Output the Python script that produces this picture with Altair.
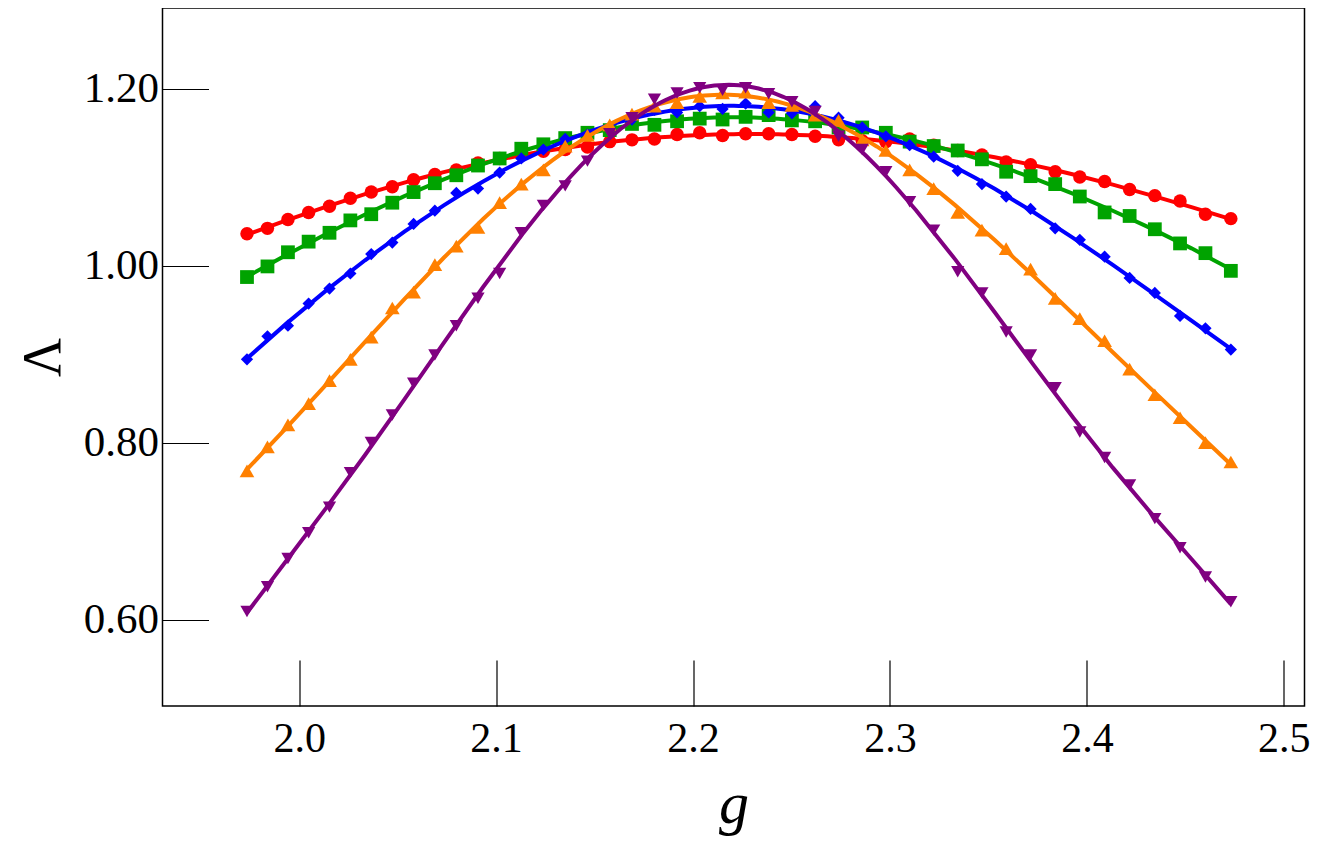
import altair as alt
import pandas as pd

g_vals = [1.9735, 1.9839, 1.9943, 2.0048, 2.0154, 2.0260, 2.0366, 2.0473, 2.0581, 2.0689,
          2.0798, 2.0908, 2.1018, 2.1128, 2.1240, 2.1351, 2.1464, 2.1577, 2.1690, 2.1804,
          2.1919, 2.2034, 2.2150, 2.2267, 2.2384, 2.2502, 2.2620, 2.2739, 2.2859, 2.2979,
          2.3100, 2.3222, 2.3344, 2.3467, 2.3590, 2.3714, 2.3839, 2.3964, 2.4090, 2.4217,
          2.4345, 2.4473, 2.4602, 2.4731]

red = [1.036, 1.042, 1.052, 1.060, 1.067, 1.076, 1.083, 1.089, 1.097, 1.103,
       1.108, 1.116, 1.121, 1.126, 1.129, 1.131, 1.134, 1.140, 1.142, 1.143,
       1.148, 1.150, 1.147, 1.149, 1.149, 1.148, 1.146, 1.142, 1.141, 1.140,
       1.143, 1.136, 1.130, 1.125, 1.117, 1.114, 1.106, 1.100, 1.095, 1.086,
       1.079, 1.073, 1.058, 1.053]
green = [0.987, 0.999, 1.015, 1.027, 1.037, 1.051, 1.058, 1.071, 1.083, 1.093,
         1.102, 1.113, 1.121, 1.132, 1.137, 1.144, 1.150, 1.153, 1.160, 1.159,
         1.163, 1.166, 1.165, 1.168, 1.170, 1.164, 1.163, 1.156, 1.156, 1.150,
         1.140, 1.135, 1.130, 1.120, 1.106, 1.101, 1.092, 1.078, 1.060, 1.056,
         1.041, 1.025, 1.014, 0.994]
blue = [0.894, 0.920, 0.932, 0.957, 0.974, 0.991, 1.013, 1.026, 1.047, 1.062,
        1.082, 1.087, 1.105, 1.121, 1.131, 1.143, 1.148, 1.155, 1.165, 1.176,
        1.173, 1.180, 1.177, 1.183, 1.173, 1.172, 1.180, 1.167, 1.156, 1.146,
        1.136, 1.123, 1.107, 1.092, 1.078, 1.064, 1.042, 1.029, 1.010, 0.986,
        0.969, 0.943, 0.929, 0.905]
orange = [0.768, 0.795, 0.820, 0.844, 0.870, 0.894, 0.919, 0.952, 0.970, 1.001,
          1.022, 1.043, 1.071, 1.092, 1.108, 1.135, 1.147, 1.159, 1.171, 1.180,
          1.184, 1.191, 1.195, 1.196, 1.184, 1.181, 1.170, 1.164, 1.142, 1.130,
          1.108, 1.087, 1.060, 1.040, 1.019, 0.996, 0.963, 0.940, 0.915, 0.883,
          0.854, 0.828, 0.800, 0.778]
purple = [0.609, 0.637, 0.669, 0.698, 0.727, 0.766, 0.800, 0.831, 0.867, 0.899,
          0.932, 0.963, 0.991, 1.037, 1.068, 1.090, 1.118, 1.149, 1.167, 1.188,
          1.195, 1.201, 1.198, 1.201, 1.194, 1.185, 1.174, 1.146, 1.131, 1.106,
          1.072, 1.040, 0.993, 0.969, 0.925, 0.899, 0.862, 0.812, 0.783, 0.752,
          0.714, 0.681, 0.648, 0.620]

series_names = ["s1", "s2", "s3", "s4", "s5"]
series_vals = [red, green, blue, orange, purple]
colors = ["#FF0000", "#00A300", "#0000FF", "#FF8000", "#800080"]
shapes = ["circle", "square", "diamond", "triangle-up", "triangle-down"]
sizes = [180, 190, 150, 215, 175]

x_ticks = [2.0, 2.1, 2.2, 2.3, 2.4, 2.5]
y_ticks = [0.6, 0.8, 1.0, 1.2]

rows = []
for name, vals in zip(series_names, series_vals):
    for gx, v in zip(g_vals, vals):
        rows.append({"series": name, "g": gx, "L": v})
df = pd.DataFrame(rows)

FONT = "Liberation Serif"

xscale = alt.Scale(domain=[1.9306, 2.5105], nice=False, zero=False)
yscale = alt.Scale(domain=[0.5023, 1.291], nice=False, zero=False)

xaxis = alt.Axis(values=x_ticks, format=".1f", title="g", grid=False, domain=False,
                 tickSize=46, offset=-46, tickColor="black", tickWidth=1.2,
                 labelFont=FONT, labelFontSize=42, labelColor="black", labelPadding=12,
                 titleFont=FONT, titleFontSize=60, titleFontStyle="italic",
                 titleFontWeight="normal", titleColor="black", titlePadding=16)
yaxis = alt.Axis(values=y_ticks, format=".2f", title="Λ", grid=False, domain=False,
                 tickSize=46, offset=-46, tickColor="black", tickWidth=1.2,
                 labelFont=FONT, labelFontSize=43, labelColor="black", labelPadding=4,
                 titleFont=FONT, titleFontSize=54, titleFontWeight="normal",
                 titleColor="black", titlePadding=13)

xenc = alt.X("g:Q", scale=xscale, axis=xaxis)
yenc = alt.Y("L:Q", scale=yscale, axis=yaxis)

base = alt.Chart(df)
layers = []
for name, col, shp, sz in zip(series_names, colors, shapes, sizes):
    line = base.transform_filter(alt.datum.series == name).transform_regression(
        "g", "L", method="poly", order=6
    ).mark_line(color=col, strokeWidth=4).encode(x=xenc, y=yenc)
    pts = base.transform_filter(alt.datum.series == name).mark_point(
        shape=shp, filled=True, size=sz, color=col, opacity=1
    ).encode(x=xenc, y=yenc)
    layers += [line, pts]

chart = alt.layer(*layers).properties(
    width=1142, height=698,
    background="white",
    autosize=alt.AutoSizeParams(type="none"),
    padding={"left": 154.5, "top": 0, "right": 7, "bottom": 136},
).configure_view(stroke="black", strokeWidth=1.5)

chart.save("out.html", embed_options={"renderer": "svg", "actions": False})
